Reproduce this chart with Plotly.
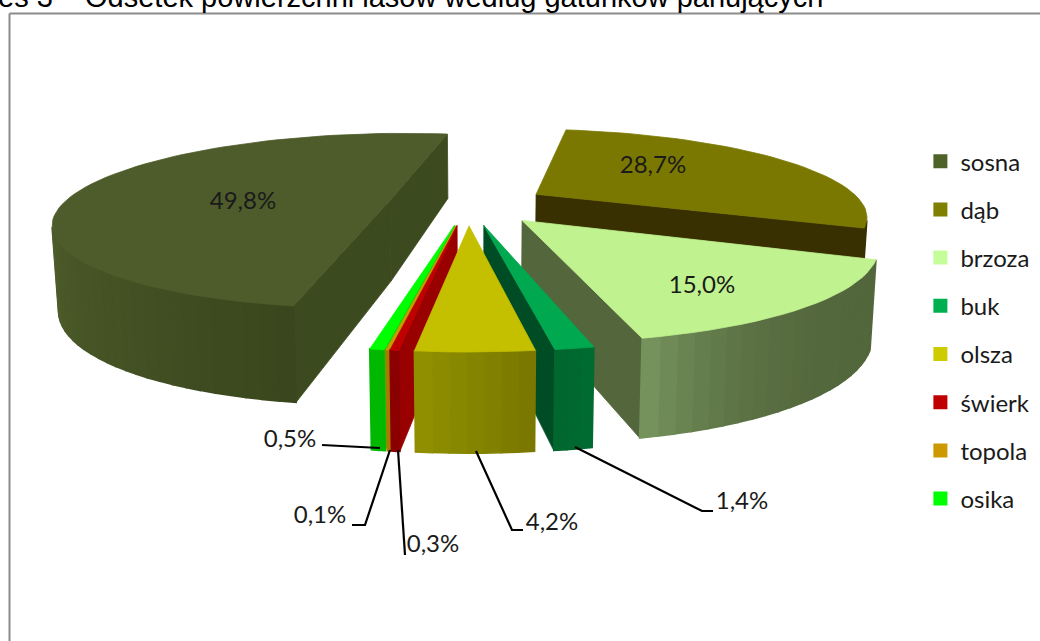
import math
import plotly.graph_objects as go

categories = ["sosna", "dąb", "brzoza", "buk", "olsza", "świerk", "topola", "osika"]
values = [49.8, 28.7, 15.0, 1.4, 4.2, 0.3, 0.1, 0.5]
title_text = "es 3 – Odsetek powierzchni lasów według gatunków panujących"

# styles: top, start face, end face, wall start, wall end, gradient power
top_col = ["#4D5C2A", "#7A7800", "#C0F290", "#00A84F", "#C4C000", "#C00000", "#CC9900", "#00FF00"]
start_face = ["#3C4A1F", "#383000", "#53663C", "#004D25", "#6E6E00", "#990000", "#A67C00", "#00D800"]
end_face = ["#3C4A1F", "#383000", "#53663C", "#004D25", "#6E6E00", "#990000", "#A67C00", "#00D800"]
wall_a = ["#3A471E", "#383000", "#53673C", "#006B30", "#7A7800", "#8B0000", "#A67C00", "#00B800"]
wall_b = ["#4D5C2A", "#383000", "#75925C", "#00672E", "#8F8F00", "#8B0000", "#A67C00", "#00B800"]
legend_col = ["#4F6228", "#7F7F00", "#C4FD9A", "#00B050", "#CCCC00", "#C00000", "#CC9900", "#00FF00"]

# view parameters
START = 190.1
R = 327.0
EXPLODE = 80.0
CX, CY = 468.0, 204.0
SQUASH = 0.258
PERSP = 1.0 / 1400
DEPTH = 81.0
DEPTH_K = 0.2


def proj(X, Y, low=False):
    w = 1 + PERSP * Y
    px = CX + X / w
    py = CY - SQUASH * Y / w
    if low:
        px = 480 + (px - 480) * 0.985
        py += DEPTH * (1 - DEPTH_K * Y / R)
    return px, py


def mix(c1, c2, t):
    a = [int(c1[i:i + 2], 16) for i in (1, 3, 5)]
    b = [int(c2[i:i + 2], 16) for i in (1, 3, 5)]
    return "#%02X%02X%02X" % tuple(round(a[i] + (b[i] - a[i]) * t) for i in range(3))


def area(pts):
    return sum(pts[i][0] * pts[(i + 1) % len(pts)][1] - pts[(i + 1) % len(pts)][0] * pts[i][1]
               for i in range(len(pts)))


fig = go.Figure()


def poly(pts, col, lw=0.8):
    xs = [p[0] for p in pts] + [pts[0][0]]
    ys = [p[1] for p in pts] + [pts[0][1]]
    fig.add_trace(go.Scatter(x=xs, y=ys, mode="lines", fill="toself", fillcolor=col,
                             line=dict(color=col, width=lw), hoverinfo="skip", showlegend=False))


total = sum(values)
slices = []
a = START
for i, v in enumerate(values):
    span = v / total * 360
    slices.append((i, a, a + span))
    a += span

# painter order: back to front
order = [1, 0, 2, 7, 6, 5, 3, 4]
for i in order:
    _, a0, a1 = slices[i]
    mid = math.radians((a0 + a1) / 2)
    ox, oy = EXPLODE * math.sin(mid), EXPLODE * math.cos(mid)
    n = max(2, int((a1 - a0) / 2.5) + 1)
    angs = [a0 + (a1 - a0) * k / n for k in range(n + 1)]
    rim = [(ox + R * math.sin(math.radians(t)), oy + R * math.cos(math.radians(t))) for t in angs]
    apex = (ox, oy)

    def quad(p, q):
        return [proj(*p), proj(*q), proj(*q, low=True), proj(*p, low=True)]

    # straight faces
    q = quad(apex, rim[0])
    if area(q) < 0:
        poly(q, start_face[i])
    q = quad(rim[-1], apex)
    if area(q) < 0:
        poly(q, end_face[i])
    # curved wall
    vis = [k for k in range(n) if area(quad(rim[k], rim[k + 1])) < 0]
    for j, k in enumerate(vis):
        t = j / max(1, len(vis) - 1)
        if i == 2:
            t = t ** 4
        poly(quad(rim[k], rim[k + 1]), mix(wall_a[i], wall_b[i], t), lw=1.6)
    # top
    poly([proj(*apex)] + [proj(*p) for p in rim], top_col[i])

# legend
for c, col in zip(categories, legend_col):
    fig.add_trace(go.Scatter(x=[None], y=[None], mode="markers", name=c, legendgroup=c,
                             marker=dict(symbol="square", size=14, color=col), hoverinfo="skip"))

# leader lines
leaders_x = [[322, 380], [352, 365, 390], [398, 405], [476, 512, 523], [575, 702, 713]]
leaders_y = [[445, 448], [525, 525, 450], [450, 555], [451, 530, 530], [447, 511, 511]]
for lx, ly in zip(leaders_x, leaders_y):
    fig.add_trace(go.Scatter(x=lx, y=ly, mode="lines", line=dict(color="black", width=2.2),
                             hoverinfo="skip", showlegend=False))

# value labels
label_x = [243, 653, 702, 742, 552, 433, 320, 290]
label_y = [203, 167, 287, 503, 524, 546, 517, 441]
labels = [f"{v:.1f}".replace(".", ",") + "%" for v in values]
fig.add_trace(go.Scatter(x=label_x, y=label_y, mode="text", text=labels, textposition="middle center",
                         textfont=dict(family="Lato", size=24, color="#1A1A1A"),
                         hoverinfo="skip", showlegend=False))

fig.update_layout(
    width=1040, height=641, margin=dict(l=0, r=0, t=0, b=0),
    paper_bgcolor="white", plot_bgcolor="white",
    xaxis=dict(range=[0, 1040], visible=False, fixedrange=True),
    yaxis=dict(range=[641, 0], visible=False, fixedrange=True),
    legend=dict(x=0.885, y=0.783, xanchor="left", yanchor="top", tracegroupgap=14,
                itemwidth=30, font=dict(family="Lato", size=24, color="#1A1A1A"),
                bgcolor="rgba(0,0,0,0)"),
    annotations=[dict(text=title_text, x=-0.003, y=1 - 14 / 641, xref="paper", yref="paper",
                      xanchor="left", yanchor="bottom", showarrow=False, borderpad=0,
                      font=dict(family="Liberation Sans", size=29, color="black"))],
    shapes=[dict(type="line", xref="x", yref="y", x0=9.5, x1=1040, y0=13.5, y1=13.5,
                 line=dict(color="#8C8C8C", width=2)),
            dict(type="line", xref="x", yref="y", x0=9.5, x1=9.5, y0=13.5, y1=641,
                 line=dict(color="#8C8C8C", width=2))],
)
fig.write_html("out.html", post_script="document.body.style.margin='0';",
               config=dict(displayModeBar=False))
